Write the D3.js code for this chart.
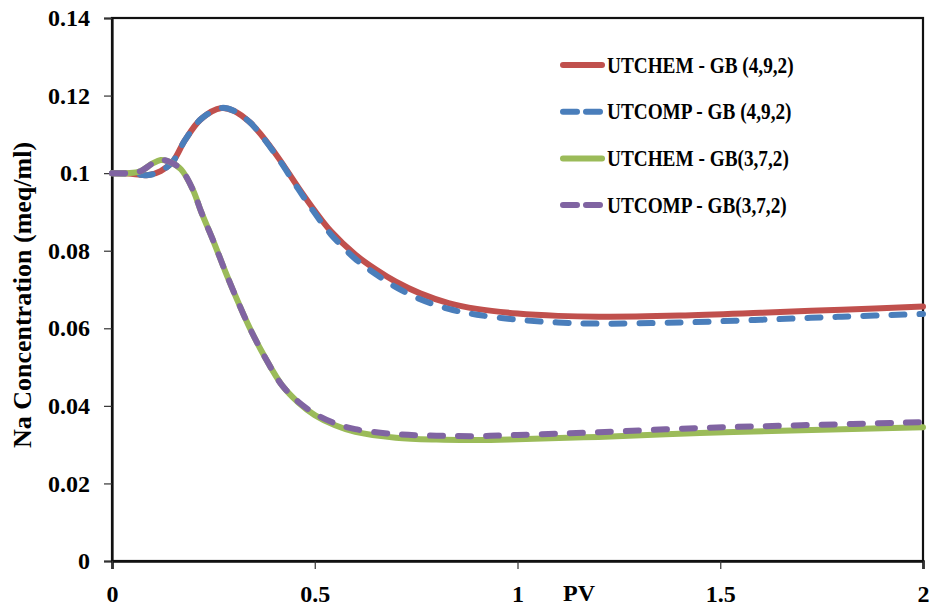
<!DOCTYPE html>
<html>
<head>
<meta charset="utf-8">
<script src="https://cdn.jsdelivr.net/npm/d3@7"></script>
<style>
  html, body { margin: 0; padding: 0; background: #fff; }
  svg text { font-family: "Liberation Serif", "Times New Roman", serif; font-weight: bold; fill: #000; }
</style>
</head>
<body>
<svg id="chart" width="933" height="611"></svg>
<script>
// Na concentration vs pore volumes injected, two grain-boundary grids, two simulators
const pv = [0, 0.04, 0.07, 0.09, 0.12, 0.15, 0.18, 0.22, 0.27, 0.30, 0.34, 0.37, 0.41, 0.46,
            0.50, 0.54, 0.60, 0.65, 0.70, 0.76, 0.83, 0.90, 1.0, 1.1, 1.2, 1.4, 1.6, 1.8, 2.0];

const utchem492 = [0.1, 0.0999, 0.0996, 0.0995, 0.1005, 0.1030, 0.1085, 0.1140, 0.1168, 0.1161,
                   0.1131, 0.1096, 0.1040, 0.0962, 0.0903, 0.0850, 0.0790, 0.0752, 0.0720, 0.0690,
                   0.0665, 0.0650, 0.0638, 0.0632, 0.0630, 0.0633, 0.0640, 0.0648, 0.0656];

const utcomp492 = [0.1, 0.0999, 0.0996, 0.0995, 0.1005, 0.1030, 0.1085, 0.1140, 0.1168, 0.1161,
                   0.1131, 0.1095, 0.1038, 0.0958, 0.0897, 0.0842, 0.0779, 0.0740, 0.0706, 0.0675,
                   0.0650, 0.0635, 0.0622, 0.0615, 0.0612, 0.0615, 0.0622, 0.0630, 0.0637];

const pvB = [0, 0.04, 0.07, 0.10, 0.12, 0.14, 0.17, 0.20, 0.22, 0.25, 0.28, 0.31, 0.34, 0.38,
             0.42, 0.46, 0.50, 0.55, 0.60, 0.70, 0.80, 0.90, 1.0, 1.2, 1.45, 1.7, 2.0];

const utchem372 = [0.1, 0.1, 0.1005, 0.1025, 0.1034, 0.1030, 0.1010, 0.0956, 0.0900, 0.0825,
                   0.0745, 0.0670, 0.0600, 0.0520, 0.0452, 0.0408, 0.0376, 0.0350, 0.0333, 0.0318,
                   0.0313, 0.0312, 0.0314, 0.0320, 0.0330, 0.0337, 0.0345];

const utcomp372 = [0.1, 0.1, 0.1005, 0.1025, 0.1034, 0.1030, 0.1010, 0.0956, 0.0900, 0.0825,
                   0.0745, 0.0670, 0.0600, 0.0520, 0.0452, 0.0410, 0.0380, 0.0355, 0.0340, 0.0327,
                   0.0323, 0.0322, 0.0325, 0.0332, 0.0343, 0.0350, 0.0358];

const seriesNames = ["UTCHEM - GB (4,9,2)", "UTCOMP - GB (4,9,2)", "UTCHEM - GB(3,7,2)", "UTCOMP - GB(3,7,2)"];
const xTicks = [0, 0.5, 1, 1.5, 2];
const yTicks = [0, 0.02, 0.04, 0.06, 0.08, 0.1, 0.12, 0.14];
const xTitle = "PV";
const yTitle = "Na Concentration  (meq/ml)";

const series = [
  { name: seriesNames[0], x: pv,  y: utchem492, color: "#C0504D", dash: null },
  { name: seriesNames[1], x: pv,  y: utcomp492, color: "#4A7EBB", dash: "13 15" },
  { name: seriesNames[2], x: pvB, y: utchem372, color: "#9BBB59", dash: null },
  { name: seriesNames[3], x: pvB, y: utcomp372, color: "#8064A2", dash: "13 15" }
];

const svg = d3.select("#chart");
const plot = { left: 112, right: 923, top: 18, bottom: 561 };

const x = d3.scaleLinear().domain([0, 2]).range([plot.left, plot.right]);
const y = d3.scaleLinear().domain([0, 0.14]).range([plot.bottom, plot.top]);

// frame
svg.append("rect")
  .attr("x", plot.left).attr("y", plot.top)
  .attr("width", plot.right - plot.left).attr("height", plot.bottom - plot.top)
  .attr("fill", "none").attr("stroke", "#111").attr("stroke-width", 2.2);

// axes
const yAxis = d3.axisLeft(y).tickValues(yTicks).tickSize(8).tickPadding(14)
  .tickFormat(d => d3.format("~g")(d));
const gy = svg.append("g").attr("transform", `translate(${plot.left},0)`).call(yAxis);
gy.select(".domain").attr("stroke", "#111").attr("stroke-width", 2.2);
gy.selectAll(".tick line").attr("stroke", "#333").attr("stroke-width", 1.2);
gy.selectAll(".tick text").style("font-size", "24px").attr("fill", "#000");

const xAxis = d3.axisBottom(x).tickValues(xTicks).tickSize(8).tickPadding(16)
  .tickFormat(d => d3.format("~g")(d));
const gx = svg.append("g").attr("transform", `translate(0,${plot.bottom})`).call(xAxis);
gx.select(".domain").attr("stroke", "#111").attr("stroke-width", 2.6);
gx.selectAll(".tick line").attr("stroke", "#333").attr("stroke-width", 1.2);
gx.selectAll(".tick text").style("font-size", "24px").attr("fill", "#000");

svg.append("text")
  .attr("x", 579).attr("y", 601)
  .attr("text-anchor", "middle")
  .style("font-size", "24px")
  .text(xTitle);

svg.append("text")
  .attr("transform", "translate(31,295) rotate(-90)")
  .attr("text-anchor", "middle")
  .style("font-size", "26px")
  .text(yTitle);

// curves
const line = d3.line()
  .x(d => x(d[0]))
  .y(d => y(d[1]))
  .curve(d3.curveCatmullRom.alpha(0.5));

series.forEach(s => {
  const pts = s.x.map((v, i) => [v, s.y[i]]);
  svg.append("path")
    .datum(pts)
    .attr("d", line)
    .attr("fill", "none")
    .attr("stroke", s.color)
    .attr("stroke-width", 6)
    .attr("stroke-linecap", "round")
    .attr("stroke-linejoin", "round")
    .attr("stroke-dasharray", s.dash);
});

// legend
const legend = svg.append("g");
series.forEach((s, i) => {
  const ly = 65 + i * 46.7;
  legend.append("line")
    .attr("x1", 563).attr("x2", 602)
    .attr("y1", ly).attr("y2", ly)
    .attr("stroke", s.color)
    .attr("stroke-width", 6)
    .attr("stroke-linecap", "round")
    .attr("stroke-dasharray", s.dash ? "14 9" : null);
  legend.append("text")
    .attr("transform", `translate(607,${ly + 7.5}) scale(0.82,1)`)
    .style("font-size", "23.5px")
    .text(s.name);
});
</script>
</body>
</html>
